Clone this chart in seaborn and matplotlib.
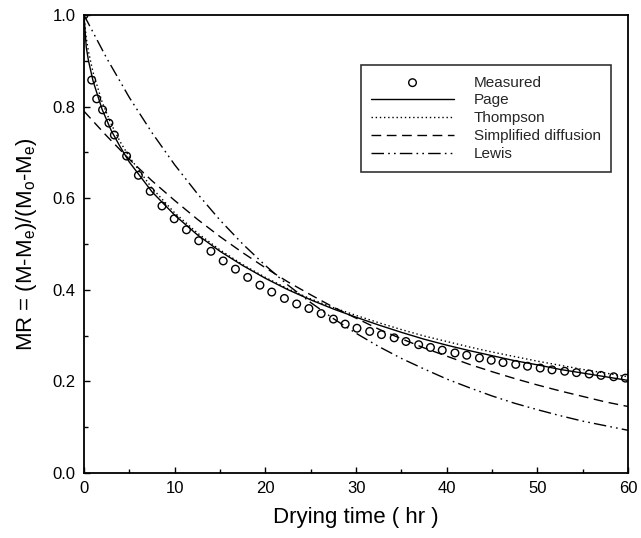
import matplotlib
matplotlib.use("Agg")
import matplotlib.pyplot as plt
from matplotlib.ticker import MultipleLocator, FormatStrFormatter
import seaborn as sns

t_meas = [0, 0.85, 1.4, 2.05, 2.75, 3.35, 4.7, 6.0, 7.3, 8.6, 9.95, 11.3,
          12.65, 14.0, 15.35, 16.7, 18.05, 19.4, 20.7, 22.1, 23.45, 24.8,
          26.15, 27.5, 28.8, 30.1, 31.5, 32.8, 34.2, 35.5, 36.9, 38.2, 39.5,
          40.9, 42.2, 43.6, 44.9, 46.2, 47.6, 48.9, 50.3, 51.6, 53.0, 54.3,
          55.7, 57.0, 58.4, 59.7]
mr_meas = [1.0, 0.858, 0.817, 0.793, 0.764, 0.738, 0.692, 0.650, 0.615,
           0.583, 0.555, 0.531, 0.507, 0.484, 0.463, 0.445, 0.427, 0.410,
           0.395, 0.381, 0.369, 0.359, 0.348, 0.336, 0.325, 0.316, 0.309,
           0.302, 0.295, 0.287, 0.280, 0.274, 0.268, 0.262, 0.257, 0.251,
           0.246, 0.241, 0.237, 0.233, 0.229, 0.225, 0.222, 0.219, 0.216,
           0.213, 0.210, 0.207]

# ── Model curves ─────────────────────────────────────────────────────────────
t_fine = [0, 0.25, 0.5, 1, 2, 3, 4, 5, 7.5, 10, 12.5, 15, 17.5, 20, 22.5, 25,
          27.5, 30, 32.5, 35, 37.5, 40, 42.5, 45, 47.5, 50, 52.5, 55, 57.5, 60]
mr_page = [1.0, 0.93, 0.90, 0.856, 0.794, 0.748, 0.712, 0.679, 0.614, 0.563,
           0.520, 0.484, 0.453, 0.425, 0.400, 0.378, 0.358, 0.340, 0.323,
           0.307, 0.292, 0.279, 0.267, 0.256, 0.245, 0.236, 0.226, 0.218,
           0.210, 0.202]
mr_thompson = [1.0, 0.95, 0.92, 0.875, 0.81, 0.762, 0.723, 0.69, 0.622, 0.568,
               0.524, 0.487, 0.455, 0.427, 0.402, 0.380, 0.361, 0.344, 0.328,
               0.313, 0.299, 0.287, 0.275, 0.264, 0.254, 0.244, 0.235, 0.226,
               0.218, 0.210]

t_coarse = [0, 2.5, 5, 7.5, 10, 12.5, 15, 17.5, 20, 22.5, 25, 27.5, 30, 32.5,
            35, 37.5, 40, 42.5, 45, 47.5, 50, 52.5, 55, 57.5, 60]
mr_diff = [0.79, 0.736, 0.685, 0.638, 0.595, 0.554, 0.516, 0.481, 0.448,
           0.417, 0.389, 0.362, 0.338, 0.314, 0.293, 0.273, 0.255, 0.237,
           0.221, 0.206, 0.192, 0.179, 0.167, 0.155, 0.145]
mr_lewis = [1.0, 0.906, 0.820, 0.743, 0.673, 0.610, 0.552, 0.500, 0.453,
            0.410, 0.372, 0.337, 0.305, 0.276, 0.250, 0.227, 0.205, 0.186,
            0.168, 0.152, 0.138, 0.125, 0.113, 0.103, 0.093]

# ── Style ────────────────────────────────────────────────────────────────────
sns.set_style("ticks")
plt.rcParams["font.family"] = ["Liberation Sans", "DejaVu Sans"]
plt.rcParams["mathtext.default"] = "regular"

fig = plt.figure(figsize=(6.41, 5.38), dpi=100)
ax = fig.add_axes([0.131, 0.121, 0.849, 0.851])

sns.scatterplot(x=t_meas, y=mr_meas, ax=ax, marker="o", s=30,
                facecolors="none", edgecolors="black", linewidths=1.0,
                label="Measured", zorder=3)
sns.lineplot(x=t_fine, y=mr_page, ax=ax, color="black", lw=1.0,
             linestyle="-", sort=False, errorbar=None, label="Page")
sns.lineplot(x=t_fine, y=mr_thompson, ax=ax, color="black", lw=1.0,
             linestyle=(0, (1, 2)), sort=False, errorbar=None, label="Thompson")
sns.lineplot(x=t_coarse, y=mr_diff, ax=ax, color="black", lw=1.0,
             linestyle=(0, (7, 4)), sort=False, errorbar=None,
             label="Simplified diffusion")
sns.lineplot(x=t_coarse, y=mr_lewis, ax=ax, color="black", lw=1.0,
             linestyle=(0, (9, 3, 1.2, 3, 1.2, 3)), sort=False, errorbar=None,
             label="Lewis")

ax.set_xlim(0, 60)
ax.set_ylim(0, 1.0)
ax.xaxis.set_major_locator(MultipleLocator(10))
ax.xaxis.set_minor_locator(MultipleLocator(5))
ax.yaxis.set_major_locator(MultipleLocator(0.2))
ax.yaxis.set_minor_locator(MultipleLocator(0.1))
ax.yaxis.set_major_formatter(FormatStrFormatter("%.1f"))
ax.tick_params(which="both", direction="in", labelsize=12, width=1.0,
               color="black", labelcolor="black")
ax.tick_params(which="major", length=4, pad=6)
ax.tick_params(which="minor", length=3)

for s in ax.spines.values():
    s.set_visible(True)
    s.set_linewidth(1.3)
    s.set_color("black")

ax.set_xlabel("Drying time ( hr )", fontsize=16, labelpad=8, color="black")
ax.set_ylabel("MR = (M-M$_{e}$)/(M$_{o}$-M$_{e}$)", fontsize=16,
              labelpad=10, color="black")

leg = ax.legend(loc="upper right", bbox_to_anchor=(0.969, 0.891),
                borderaxespad=0, fontsize=11, frameon=True, fancybox=False,
                handlelength=5.4, handletextpad=1.3, labelspacing=0.25,
                borderpad=0.7)
leg.get_frame().set_edgecolor("black")
leg.get_frame().set_linewidth(1.2)

fig.savefig("out.png", dpi=100)
